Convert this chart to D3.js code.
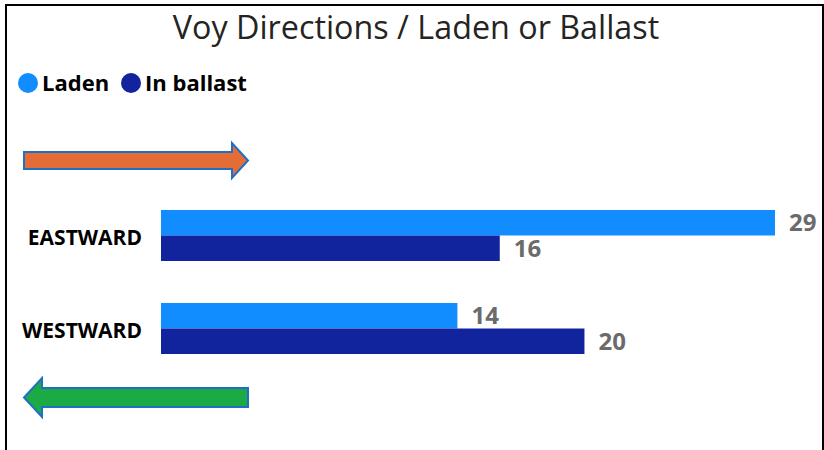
<!DOCTYPE html>
<html>
<head>
<meta charset="utf-8">
<script src="https://cdn.jsdelivr.net/npm/d3@7"></script>
<style>
  body { margin: 0; background: #fff; }
  svg { display: block; }
</style>
</head>
<body>
<svg id="chart" width="824" height="450"></svg>
<script>
// chart data
const directions = ["EASTWARD", "WESTWARD"];
const seriesNames = ["Laden", "In ballast"];
const ladenValues = [29, 14];
const ballastValues = [16, 20];
const seriesColors = ["#118DFF", "#12239E"];

const width = 824, height = 450;
const svg = d3.select("#chart");

// frame (left, top, right edges)
svg.append("path")
    .attr("d", "M6,450 V5 H823 V450")
    .attr("fill", "none")
    .attr("stroke", "#000")
    .attr("stroke-width", 2);

// title
svg.append("text")
    .attr("x", 416)
    .attr("y", 39)
    .attr("text-anchor", "middle")
    .attr("font-family", "'Open Sans', sans-serif")
    .attr("font-size", 32.3)
    .attr("fill", "#252423")
    .text("Voy Directions / Laden or Ballast");

// legend
const legend = svg.append("g");
const legendX = [28, 131];
seriesNames.forEach((name, i) => {
    legend.append("circle")
        .attr("cx", legendX[i])
        .attr("cy", 83)
        .attr("r", 10)
        .attr("fill", seriesColors[i]);
    legend.append("text")
        .attr("x", legendX[i] + 14)
        .attr("y", 91)
        .attr("font-family", "'Open Sans', sans-serif")
        .attr("font-weight", "bold")
        .attr("font-size", 22)
        .attr("fill", "#000")
        .text(name);
});

// scales
const x = d3.scaleLinear().domain([0, 29]).range([161, 775]);
const y = d3.scaleBand().domain(directions).range([210, 354]).paddingInner(42 / 93).paddingOuter(0);
const sub = d3.scaleBand().domain(seriesNames).range([0, y.bandwidth()]);

const rows = directions.map((d, i) => ({
    dir: d,
    vals: [ladenValues[i], ballastValues[i]]
}));

const groups = svg.selectAll("g.row")
    .data(rows)
    .enter().append("g")
    .attr("class", "row")
    .attr("transform", d => `translate(0,${y(d.dir)})`);

groups.selectAll("rect")
    .data(d => d.vals.map((v, i) => ({ v, s: seriesNames[i], i })))
    .enter().append("rect")
    .attr("x", x(0))
    .attr("y", d => sub(d.s))
    .attr("width", d => x(d.v) - x(0))
    .attr("height", sub.bandwidth())
    .attr("fill", d => seriesColors[d.i]);

groups.selectAll("text.val")
    .data(d => d.vals.map((v, i) => ({ v, s: seriesNames[i] })))
    .enter().append("text")
    .attr("class", "val")
    .attr("x", d => x(d.v) + 14)
    .attr("y", d => sub(d.s) + sub.bandwidth() / 2 + 8.5)
    .attr("font-family", "'Open Sans', sans-serif")
    .attr("font-weight", "bold")
    .attr("font-size", 24)
    .attr("fill", "#6B6B6B")
    .text(d => d.v);

// category axis
const yAxis = svg.append("g")
    .attr("transform", "translate(142,0)")
    .call(d3.axisLeft(y).tickSize(0).tickPadding(0));
yAxis.select(".domain").remove();
yAxis.selectAll("text")
    .attr("font-family", "'Open Sans', sans-serif")
    .attr("font-weight", "bold")
    .attr("font-size", 21)
    .attr("fill", "#000")
    .attr("dy", "0.45em");

// direction arrows
const arrowStroke = "#1F6FC5";
svg.append("path")
    .attr("d", "M24,152 H232 V143 L248,160.5 L232,178 V169 H24 Z")
    .attr("fill", "#E46C37")
    .attr("stroke", arrowStroke)
    .attr("stroke-width", 2);

svg.append("path")
    .attr("d", "M248,388 H42 V378 L24,397.5 L42,417 V407 H248 Z")
    .attr("fill", "#1CAA44")
    .attr("stroke", arrowStroke)
    .attr("stroke-width", 2);
</script>
</body>
</html>
